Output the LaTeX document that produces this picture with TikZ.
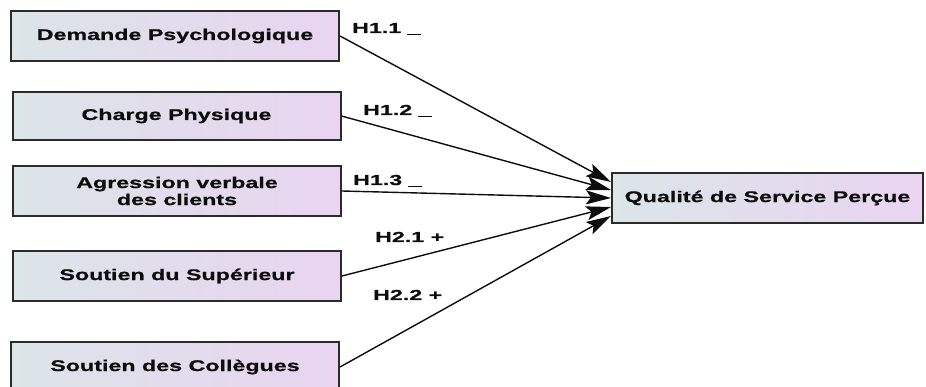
\documentclass[tikz,border=0pt]{standalone}
\usepackage{fontspec}
\newfontfamily\boxfont{Liberation Sans Bold}[FakeStretch=1.5, FakeBold=0.8]
\newfontfamily\hypfont{Liberation Sans Bold}[FakeStretch=1.6, FakeBold=0.8]
\usetikzlibrary{arrows.meta,positioning,calc}
\definecolor{boxl}{HTML}{DCE5E8}
\definecolor{boxr}{HTML}{E9D4F1}
\definecolor{edge}{HTML}{2B2B2B}
\definecolor{ink}{HTML}{0D0D0D}
\tikzset{
  var/.style={rectangle, draw=edge, line width=2pt, left color=boxl, right color=boxr,
              align=center, text=ink, inner sep=0pt, minimum width=328pt, minimum height=50pt,
              font=\boxfont\fontsize{15.5}{17}\selectfont},
  fl/.style={-{Stealth[length=25pt,width=14pt,inset=5pt]}, line width=1.4pt, draw=ink},
  hyp/.style={font=\hypfont\fontsize{14.5}{16}\selectfont, text=ink, inner sep=0pt, anchor=base west},
}

\begin{document}
\begin{tikzpicture}[x=1pt,y=-1pt]
  \useasboundingbox (0,0) rectangle (926,387);
  % predictors
  \node[var] (dp) at (175,36) {Demande Psychologique};
  \node[var, minimum height=48pt] (cp) at (176.5,116) {Charge Physique};
  \node[var] (av) at (177,191) {Agression verbale\\ des clients};
  \node[var] (ss) at (177,276) {Soutien du Supérieur};
  \node[var] (sc) at (175,367) {Soutien des Collègues};
  % outcome
  \node[var, minimum width=311pt] (qs) at (767.5,198) {Qualité de Service Perçue};
  \draw[fl] (dp.east) -- ([yshift=16pt]qs.west);
  \draw[fl] (cp.east) -- ([yshift=8pt]qs.west);
  \draw[fl] (av.east) -- (qs.west);
  \draw[fl] (ss.east) -- ([yshift=-9pt]qs.west);
  \draw[fl] (sc.east) -- ([yshift=-18pt]qs.west);
  % hypotheses
  \node[hyp] (h11) at (352,33) {H1.1 \_};
  \node[hyp] (h12) at (363,115) {H1.2 \_};
  \node[hyp] (h13) at (353,185) {H1.3 \_};
  \node[hyp] (h21) at (375,242) {H2.1 +};
  \node[hyp] (h22) at (373,300) {H2.2 +};
\end{tikzpicture}
\end{document}
